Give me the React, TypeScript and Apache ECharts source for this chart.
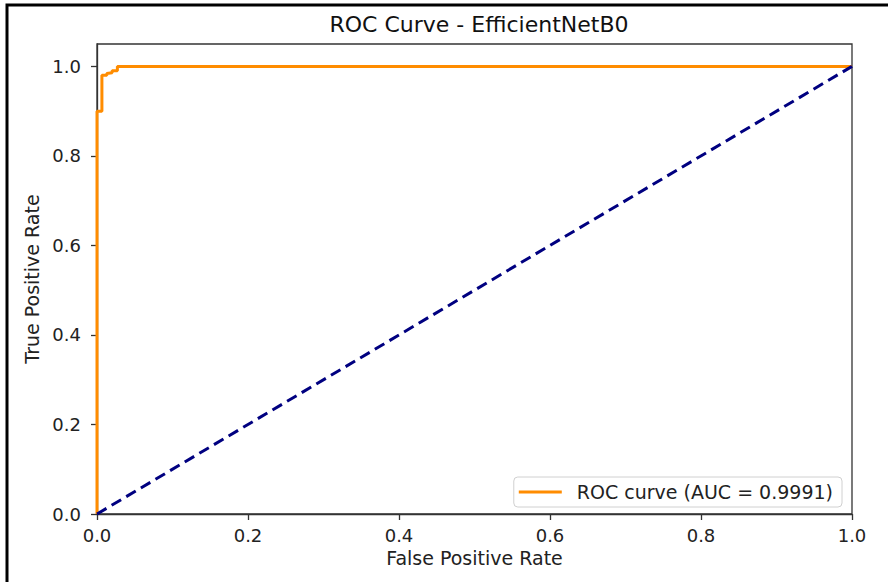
import React, { useEffect, useRef } from "react";
import * as echarts from "echarts";

const rocFpr = [0, 0, 0.0065, 0.0065, 0.013, 0.013, 0.02, 0.02, 0.027, 0.027, 1];
const rocTpr = [0, 0.9, 0.9, 0.98, 0.98, 0.984, 0.986, 0.99, 0.99, 1.0, 1.0];
const diagX = [0, 1];
const diagY = [0, 1];
const yTicks = [0, 0.2, 0.4, 0.6, 0.8, 1.0];
const xTicks = [0, 0.2, 0.4, 0.6, 0.8, 1.0];
const titleText = "ROC Curve - EfficientNetB0";
const legendLabel = "ROC curve (AUC = 0.9991)";

const FONT = "DejaVu Sans";

export default function App() {
  const ref = useRef<HTMLDivElement>(null);
  useEffect(() => {
    if (!ref.current) return;
    const chart = echarts.init(ref.current, null, { renderer: "svg" });
    const roc = rocFpr.map((x, i) => [x, rocTpr[i]]);
    const diag = diagX.map((x, i) => [x, diagY[i]]);
    chart.setOption({
      animation: false,
      backgroundColor: "#ffffff",
      textStyle: { fontFamily: FONT },
      title: {
        text: titleText,
        left: 474,
        top: 8,
        textAlign: "center",
        textStyle: { fontFamily: FONT, fontSize: 22, fontWeight: "normal", color: "#111" },
      },
      grid: {
        left: 97,
        right: 36,
        top: 44,
        bottom: 68,
        show: true,
        borderColor: "#333",
        borderWidth: 1.3,
        backgroundColor: "transparent",
      },
      legend: {
        data: [legendLabel],
        right: 46,
        bottom: 75,
        icon: "rect",
        itemWidth: 43,
        itemHeight: 3,
        padding: [5, 9, 5, 5],
        backgroundColor: "rgba(255,255,255,0.85)",
        borderColor: "#d0d0d0",
        borderWidth: 1,
        borderRadius: 4,
        textStyle: { fontFamily: FONT, fontSize: 19, color: "#222", padding: [0, 0, 0, 10], lineHeight: 20 },
      },
      xAxis: {
        type: "value",
        min: 0,
        max: 1,
        interval: 0.2,
        name: "False Positive Rate",
        nameLocation: "middle",
        nameGap: 34,
        nameTextStyle: { fontFamily: FONT, fontSize: 19, color: "#222" },
        axisLine: { show: true, lineStyle: { color: "#333", width: 1.3 } },
        axisTick: { show: true, length: 6, lineStyle: { color: "#333", width: 1.3 }, customValues: xTicks },
        axisLabel: {
          fontFamily: FONT,
          fontSize: 18,
          color: "#222",
          margin: 12,
          customValues: xTicks,
          formatter: (v: number) => v.toFixed(1),
        },
        splitLine: { show: false },
      },
      yAxis: {
        type: "value",
        min: 0,
        max: 1.05,
        name: "True Positive Rate",
        nameLocation: "middle",
        nameGap: 54,
        nameTextStyle: { fontFamily: FONT, fontSize: 19, color: "#222" },
        axisLine: { show: true, lineStyle: { color: "#333", width: 1.3 } },
        axisTick: { show: true, length: 6, lineStyle: { color: "#333", width: 1.3 }, customValues: yTicks },
        axisLabel: {
          fontFamily: FONT,
          fontSize: 18,
          color: "#222",
          margin: 16,
          customValues: yTicks,
          formatter: (v: number) => v.toFixed(1),
        },
        splitLine: { show: false },
      },
      graphic: [
        {
          type: "polyline",
          silent: true,
          z: 100,
          shape: { points: [[7, 582], [7, 5], [888, 5]] },
          style: { stroke: "#000", lineWidth: 3, fill: null },
        },
      ],
      series: [
        {
          name: legendLabel,
          type: "line",
          data: roc,
          symbol: "none",
          lineStyle: { color: "#FF8C00", width: 3 },
          itemStyle: { color: "#FF8C00" },
          z: 2,
        },
        {
          name: "chance",
          type: "line",
          data: diag,
          symbol: "none",
          lineStyle: { color: "#000080", width: 3, type: [11, 6] },
          itemStyle: { color: "#000080" },
          z: 3,
        },
      ],
    });
    return () => chart.dispose();
  }, []);
  return (
    <div
      ref={ref}
      style={{ width: 888, height: 582, position: "fixed", left: 0, top: 0 }}
    />
  );
}
